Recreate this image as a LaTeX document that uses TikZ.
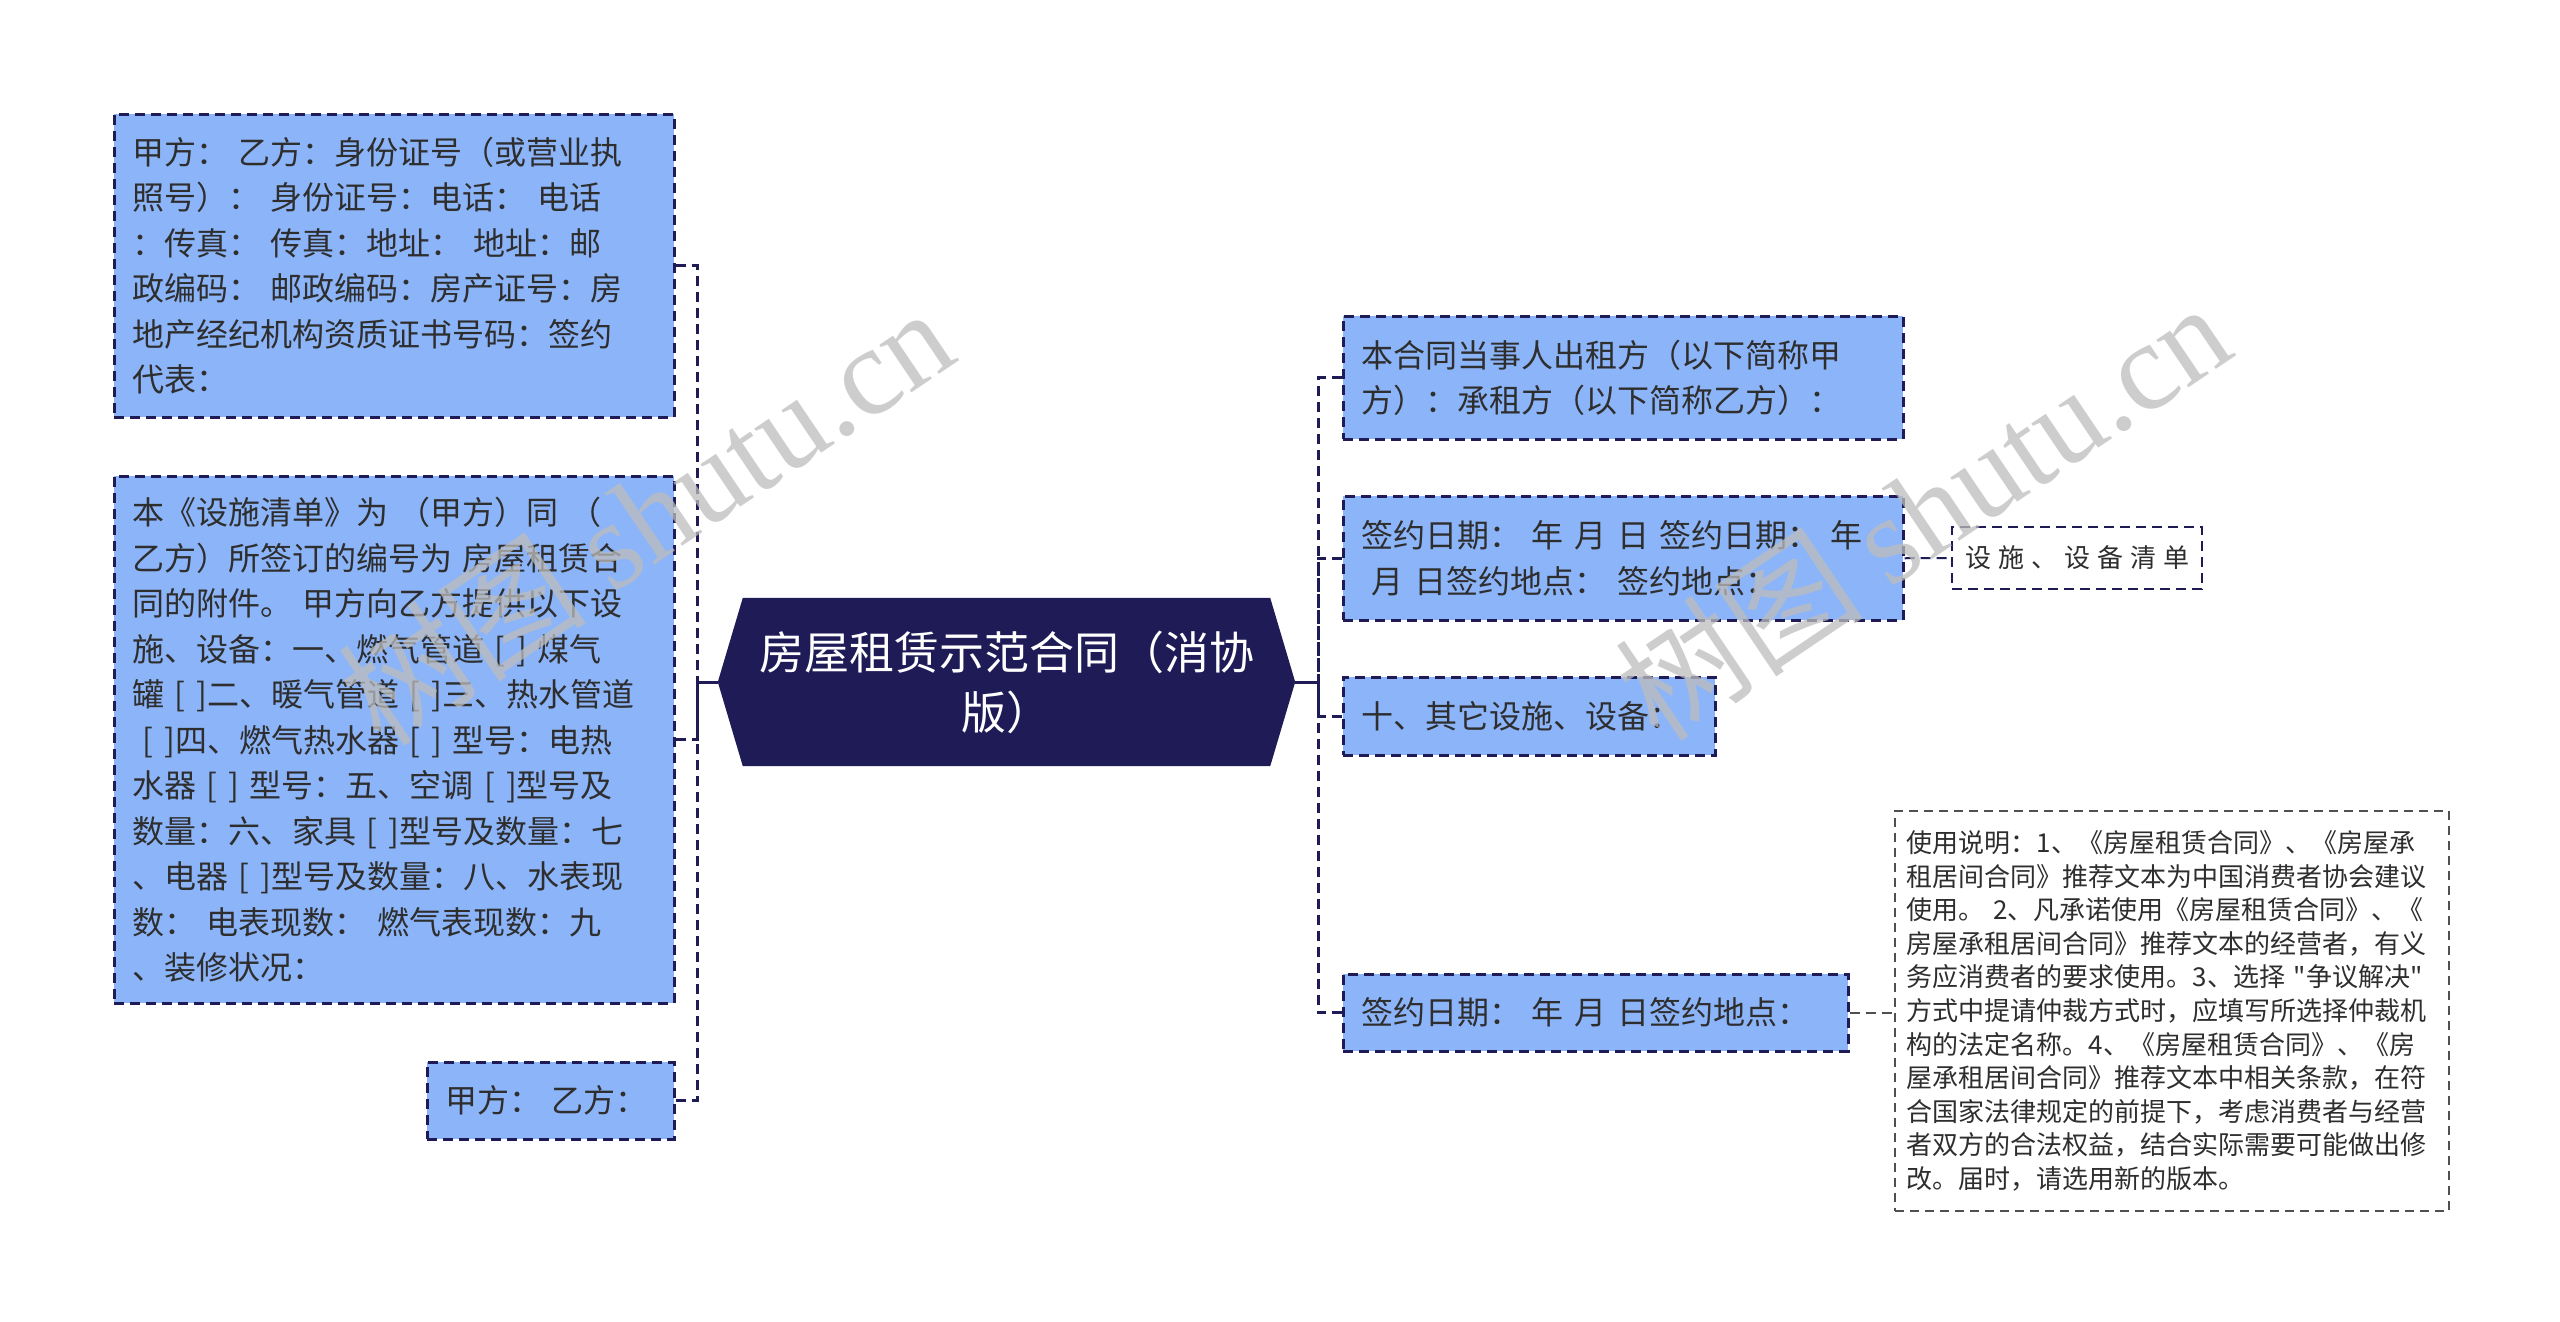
\documentclass[tikz,border=0pt]{standalone}
\usepackage{fontspec}
\setmainfont{Noto Sans CJK SC}
\newfontfamily\cjkq{Noto Sans CJK SC}
\newfontfamily\wmserif{Liberation Serif}
\usetikzlibrary{backgrounds}
\definecolor{boxblue}{HTML}{8CB4F8}
\definecolor{navy}{HTML}{1E1B57}
\definecolor{txt}{HTML}{2E2E2E}
\definecolor{wmgray}{HTML}{BDBDBD}
\definecolor{notegray}{HTML}{505050}
\newcommand\lsp{\hspace{7pt}}
\newcommand\sq{{\cjkq "}}
\begin{document}
\begin{tikzpicture}[x=1pt,y=-1pt,
  leaf/.style={draw=navy, fill=boxblue, dash pattern=on 10pt off 6pt, line width=2.5pt,
    text=txt, font=\fontsize{32}{45.5}\selectfont, align=left, inner xsep=18pt,
    inner ysep=0pt, anchor=north west},
  rootnode/.style={minimum width=577pt, minimum height=168pt, text=white,
    font=\fontsize{45}{60}\selectfont, align=center, inner sep=0pt},
  conn/.style={draw=navy, line width=3pt, dash pattern=on 10pt off 6pt},
  listbox/.style={draw=navy, fill=white, dash pattern=on 10pt off 6pt, line width=2.2pt,
    text=txt, font=\fontsize{26}{30}\selectfont, anchor=north west,
    minimum width=250pt, minimum height=62pt, inner sep=0pt},
  notebox/.style={draw=notegray, fill=white, dash pattern=on 9pt off 6pt, line width=1.6pt,
    text=txt, font=\fontsize{26}{33.6}\selectfont, align=left, inner xsep=12pt,
    inner ysep=0pt, anchor=north west, text width=530pt, minimum height=400pt},
  wmark/.style={text=wmgray, opacity=0.75, font=\fontsize{125}{125}\selectfont, rotate=34}
]
\useasboundingbox (0,0) rectangle (2560,1322);

% root
\node[rootnode] (c) at (1006.5,682) {房屋租赁示范合同（消协\\版）};
\begin{scope}[on background layer]
\fill[white] (0,0) rectangle (2560,1322);
\fill[navy] (c.west) -- ([xshift=25pt]c.north west) -- ([xshift=-25pt]c.north east)
  -- (c.east) -- ([xshift=-25pt]c.south east) -- ([xshift=25pt]c.south west) -- cycle;
\end{scope}

% left boxes
\node[leaf, text width=524pt, minimum height=303pt] (b1) at (113,113) {甲方：~乙方：身份证号（或营业执\\照号）：~身份证号：电话：~电话\\：传真：~传真：地址：~地址：邮\\政编码：~邮政编码：房产证号：房\\地产经纪机构资质证书号码：签约\\代表：};
\node[leaf, text width=524pt, minimum height=527pt] (b2) at (113,475) {本《设施清单》为~（甲方）同~（\\乙方）所签订的编号为~房屋租赁合\\同的附件。~甲方向乙方提供以下设\\施、设备：一、燃气管道~[~]~煤气\\罐~[~]二、暖气管道~[~]三、热水管道\\~[~]四、燃气热水器~[~]~型号：电热\\水器~[~]~型号：五、空调~[~]型号及\\数量：六、家具~[~]型号及数量：七\\、电器~[~]型号及数量：八、水表现\\数：~电表现数：~燃气表现数：九\\、装修状况：};
\node[leaf, text width=211pt, minimum height=77pt, inner xsep=18pt] (b3) at (426,1061) {甲方：~乙方：};

% right boxes
\node[leaf, text width=524pt, minimum height=123pt] (r1) at (1342,315) {本合同当事人出租方（以下简称甲\\方）：承租方（以下简称乙方）：};
\node[leaf, text width=524pt, minimum height=124pt] (r2) at (1342,495) {签约日期：~年~月~日~签约日期：~年\\~月~日签约地点：~签约地点：};
\node[leaf, text width=336pt, minimum height=78pt] (r3) at (1342,676) {十、其它设施、设备：};
\node[leaf, text width=469pt, minimum height=77pt] (r4) at (1342,973) {签约日期：~年~月~日签约地点：};

\node[listbox] (l1) at (1951,526) {设\lsp 施\lsp 、\lsp 设\lsp 备\lsp 清\lsp 单};
\node[notebox] (n1) at (1894,810) {使用说明：1、《房屋租赁合同》、《房屋承\\租居间合同》推荐文本为中国消费者协会建议\\使用。~2、凡承诺使用《房屋租赁合同》、《\\房屋承租居间合同》推荐文本的经营者，有义\\务应消费者的要求使用。3、选择~\sq 争议解决\sq\\方式中提请仲裁方式时，应填写所选择仲裁机\\构的法定名称。4、《房屋租赁合同》、《房\\屋承租居间合同》推荐文本中相关条款，在符\\合国家法律规定的前提下，考虑消费者与经营\\者双方的合法权益，结合实际需要可能做出修\\改。届时，请选用新的版本。};

% connectors
\coordinate (ls) at (697,682);
\coordinate (rs) at (1318,682);
\draw[conn] (b1.east) -| (ls) -- (c.west);
\draw[conn] (b2.east) -| (ls) -- (c.west);
\draw[conn] (b3.east) -| (ls) -- (c.west);
\draw[conn] (r1.west) -| (rs) -- (c.east);
\draw[conn] (r2.west) -| (rs) -- (c.east);
\draw[conn] (r3.west) -| (rs) -- (c.east);
\draw[conn] (r4.west) -| (rs) -- (c.east);
\draw[conn, line width=2pt] (r2.east) -- (l1.west);
\draw[conn, line width=2pt, draw=notegray] (r4.east) -- (n1.west |- r4.east);

% watermarks
\node[wmark] (wm1) at (645,515) {树图~{\wmserif shutu.cn}};
\node[wmark] (wm2) at (1922,510) {树图~{\wmserif shutu.cn}};
\end{tikzpicture}
\end{document}
